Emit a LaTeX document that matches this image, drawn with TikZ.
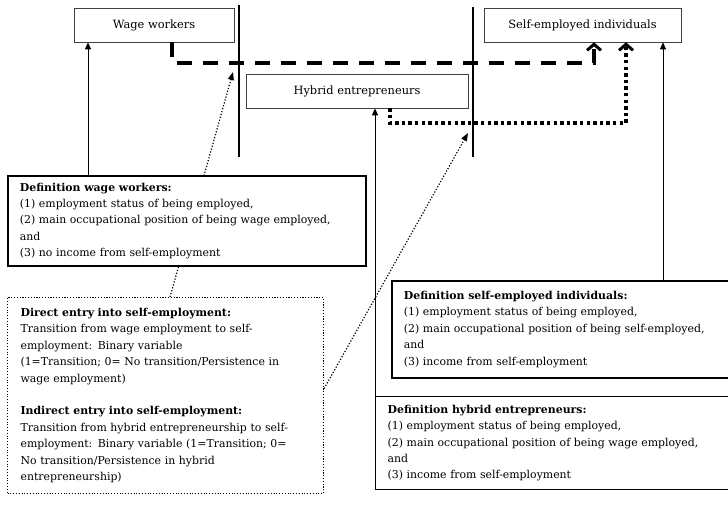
\documentclass[tikz,border=0pt]{standalone}
\usepackage{fontspec}
\setmainfont{DejaVu Serif}
\usetikzlibrary{arrows.meta}

\newcommand{\boxfont}{\fontsize{10.9}{16.4}\selectfont}

\tikzset{
  groupbox/.style={draw=black!75, line width=0.7pt, minimum height=34pt, inner sep=0pt, font=\fontsize{11.4}{14}\selectfont},
  defbox/.style={draw, line width=1.8pt, fill=white, anchor=north west, align=left, inner xsep=12pt, inner ysep=0pt, font=\boxfont},
  entrybox/.style={draw, line width=1.1pt, dash pattern=on 1.1pt off 1.7pt, anchor=north west, align=left, inner xsep=3pt, inner ysep=0pt, font=\boxfont},
  sepline/.style={line width=1.2pt},
  dashline/.style={line width=3.6pt, dash pattern=on 15pt off 11pt, -{Straight Barb[length=6pt,width=14pt,line width=3pt]}},
  dotline/.style={line width=3.4pt, dash pattern=on 3.4pt off 3.2pt, -{Straight Barb[length=6pt,width=14pt,line width=3pt]}},
  thinarrow/.style={line width=1pt, -{Triangle[length=7pt,width=6pt]}},
  linkarrow/.style={line width=1.2pt, dash pattern=on 1.2pt off 1.8pt, -{Triangle[length=8pt,width=6pt]}}
}

\begin{document}
\begin{tikzpicture}[x=1pt, y=-1pt]

\useasboundingbox (0,0) rectangle (728,507);

% Groups
\node[groupbox, minimum width=160pt] (wage) at (154,25) {Wage workers};
\node[groupbox, minimum width=197pt] (self) at (582.5,25) {Self-employed individuals};
\node[groupbox, minimum width=222pt] (hybrid) at (357,91) {Hybrid entrepreneurs};

% Separators
\draw[sepline] (239,5) -- (239,157);
\draw[sepline] (473,7) -- (473,157);

% Direct entry
\coordinate (dw) at (172,0);
\coordinate (ds) at (594,63);
\draw[dashline] (wage.south -| dw) |- (ds) -- (ds |- self.south);

% Indirect entry
\coordinate (hs) at (390,0);
\coordinate (hd) at (626,123);
\draw[dotline] (hybrid.south -| hs) |- (hd) -- (hd |- self.south);

% Entry variables
\node[entrybox, text width=310pt, minimum height=196pt] (entry) at (7,297) {\leftskip=10pt
\textbf{Direct entry into self-employment:}\\
Transition from wage employment to self-\\
employment: Binary variable\\
(1=Transition; 0= No transition/Persistence in\\
wage employment)\\[16.4pt]
\textbf{Indirect entry into self-employment:}\\
Transition from hybrid entrepreneurship to self-\\
employment: Binary variable (1=Transition; 0=\\
No transition/Persistence in hybrid\\
entrepreneurship)\par};

\coordinate (lw) at (170,0);
\coordinate (le) at (233,72);
\coordinate (lh) at (468,133);
\draw[linkarrow] (entry.north -| lw) -- (le);
\draw[linkarrow] ([yshift=7pt]entry.east) -- (lh);

% Definitions
\node[defbox, text width=334pt, minimum height=90pt] (defwage) at (7,175) {%
\textbf{Definition wage workers:}\\
(1) employment status of being employed,\\
(2) main occupational position of being wage employed,\\
and\\
(3) no income from self-employment};

\node[defbox, text width=325pt, minimum height=97pt] (defself) at (391,280) {%
\textbf{Definition self-employed individuals:}\\
(1) employment status of being employed,\\
(2) main occupational position of being self-employed,\\
and\\
(3) income from self-employment};

\node[defbox, line width=1.3pt, text width=340pt, minimum height=93pt] (defhybrid) at (375,396) {%
\textbf{Definition hybrid entrepreneurs:}\\
(1) employment status of being employed,\\
(2) main occupational position of being wage employed,\\
and\\
(3) income from self-employment};

\coordinate (wx) at (88,0);
\coordinate (sx) at (663,0);
\draw[thinarrow] (defwage.north -| wx) -- (wage.south -| wx);
\draw[thinarrow] (defhybrid.north west) -- (defhybrid.north west |- hybrid.south);
\draw[thinarrow] (defself.north -| sx) -- (self.south -| sx);

\end{tikzpicture}
\end{document}
